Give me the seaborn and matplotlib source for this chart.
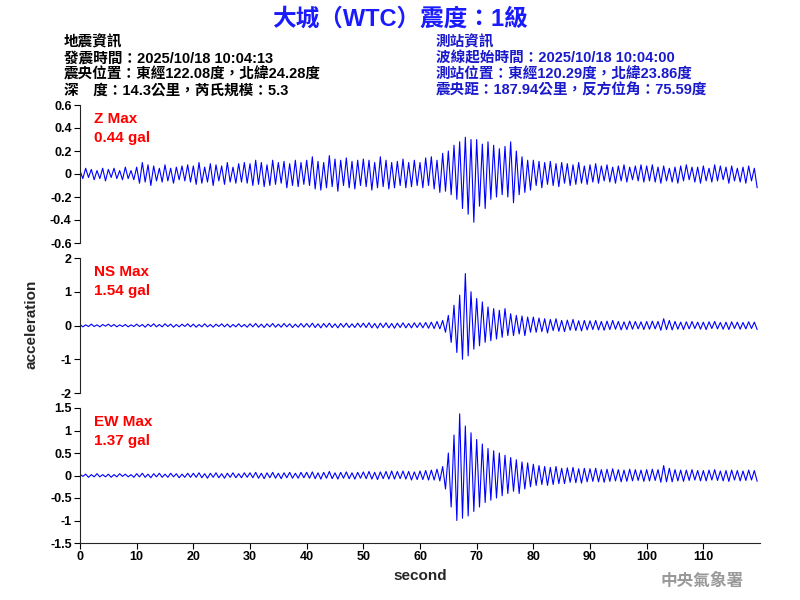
import numpy as np
import pandas as pd
import seaborn as sns
import matplotlib
matplotlib.use("Agg")
import matplotlib.pyplot as plt

# ── waveform samples, every 0.5 s from 0 s ──
STEP = 0.5
z_acc = [
    0.03,-0.04,0.05,-0.03,0.04,-0.05,0.03,-0.04,0.05,-0.06,0.04,-0.03,0.05,-0.04,0.03,-0.05,0.06,-0.04,0.03,-0.05,
    0.06,-0.08,0.1,-0.07,0.08,-0.1,0.07,-0.06,0.05,-0.07,0.08,-0.06,0.05,-0.08,0.06,-0.05,0.07,-0.06,0.08,-0.07,
    0.07,-0.09,0.1,-0.08,0.06,-0.07,0.09,-0.1,0.08,-0.06,0.07,-0.09,0.1,-0.07,0.06,-0.08,0.09,-0.07,0.1,-0.08,
    0.09,-0.1,0.12,-0.09,0.1,-0.11,0.08,-0.1,0.12,-0.09,0.1,-0.08,0.11,-0.12,0.09,-0.1,0.12,-0.11,0.1,-0.09,
    0.12,-0.1,0.15,-0.13,0.11,-0.14,0.1,-0.12,0.16,-0.11,0.13,-0.15,0.12,-0.1,0.14,-0.12,0.11,-0.13,0.12,-0.1,
    0.13,-0.11,0.12,-0.14,0.1,-0.12,0.15,-0.11,0.12,-0.13,0.1,-0.12,0.11,-0.1,0.13,-0.12,0.1,-0.11,0.12,-0.1,
    0.1,-0.12,0.14,-0.1,0.15,-0.13,0.12,-0.16,0.18,-0.15,0.2,-0.18,0.25,-0.22,0.28,-0.3,0.32,-0.35,0.3,-0.42,
    0.3,-0.28,0.26,-0.3,0.28,-0.22,0.25,-0.2,0.22,-0.18,0.24,-0.2,0.28,-0.25,0.2,-0.18,0.15,-0.16,0.12,-0.14,
    0.12,-0.1,0.11,-0.12,0.1,-0.09,0.11,-0.1,0.09,-0.11,0.1,-0.08,0.09,-0.1,0.08,-0.09,0.1,-0.08,0.07,-0.09,
    0.08,-0.07,0.09,-0.08,0.07,-0.06,0.08,-0.07,0.06,-0.08,0.07,-0.06,0.08,-0.07,0.06,-0.05,0.07,-0.06,0.08,-0.07,
    0.07,-0.06,0.08,-0.07,0.06,-0.08,0.07,-0.06,0.05,-0.07,0.06,-0.08,0.07,-0.06,0.08,-0.05,0.06,-0.07,0.06,-0.08,
    0.07,-0.06,0.05,-0.07,0.08,-0.06,0.07,-0.05,0.06,-0.08,0.07,-0.06,0.05,-0.07,0.06,-0.08,0.07,-0.06,0.05,-0.12,
]
ns_acc = [
    0.03,-0.04,0.02,-0.03,0.04,-0.03,0.02,-0.04,0.03,-0.02,0.04,-0.03,0.03,-0.04,0.02,-0.03,0.03,-0.04,0.02,-0.03,
    0.04,-0.03,0.03,-0.05,0.04,-0.03,0.05,-0.04,0.03,-0.04,0.05,-0.03,0.04,-0.05,0.03,-0.04,0.04,-0.03,0.05,-0.04,
    0.04,-0.05,0.03,-0.04,0.05,-0.04,0.03,-0.05,0.04,-0.03,0.05,-0.04,0.04,-0.05,0.03,-0.04,0.05,-0.04,0.03,-0.05,
    0.05,-0.04,0.06,-0.05,0.04,-0.06,0.05,-0.04,0.06,-0.05,0.04,-0.05,0.06,-0.04,0.05,-0.06,0.04,-0.05,0.06,-0.05,
    0.06,-0.05,0.07,-0.06,0.05,-0.07,0.06,-0.05,0.07,-0.06,0.05,-0.07,0.06,-0.05,0.07,-0.06,0.05,-0.06,0.07,-0.05,
    0.07,-0.06,0.08,-0.07,0.06,-0.08,0.07,-0.06,0.08,-0.07,0.06,-0.08,0.07,-0.06,0.08,-0.07,0.06,-0.07,0.08,-0.06,
    0.08,-0.07,0.09,-0.08,0.1,-0.09,0.12,-0.1,0.15,-0.2,0.3,-0.5,0.6,-0.8,0.9,-1.0,1.54,-0.9,1.0,-0.7,
    0.8,-0.6,0.7,-0.5,0.55,-0.45,0.5,-0.4,0.45,-0.35,0.5,-0.3,0.35,-0.3,0.3,-0.25,0.28,-0.3,0.25,-0.2,
    0.25,-0.2,0.22,-0.18,0.2,-0.22,0.18,-0.15,0.2,-0.17,0.15,-0.18,0.16,-0.14,0.18,-0.15,0.14,-0.16,0.15,-0.13,
    0.14,-0.12,0.15,-0.13,0.12,-0.14,0.13,-0.12,0.15,-0.11,0.12,-0.13,0.11,-0.12,0.13,-0.11,0.12,-0.1,0.11,-0.12,
    0.12,-0.11,0.13,-0.1,0.12,-0.14,0.2,-0.12,0.15,-0.13,0.12,-0.11,0.1,-0.12,0.11,-0.1,0.12,-0.09,0.1,-0.11,
    0.1,-0.12,0.11,-0.09,0.12,-0.1,0.09,-0.11,0.1,-0.12,0.11,-0.09,0.1,-0.11,0.09,-0.1,0.11,-0.09,0.1,-0.12,
]
ew_acc = [
    0.03,-0.02,0.03,-0.04,0.02,-0.03,0.04,-0.03,0.02,-0.03,0.03,-0.04,0.02,-0.03,0.04,-0.02,0.03,-0.03,0.02,-0.04,
    0.04,-0.03,0.05,-0.04,0.03,-0.05,0.04,-0.03,0.05,-0.04,0.03,-0.04,0.05,-0.03,0.04,-0.05,0.03,-0.04,0.05,-0.04,
    0.05,-0.04,0.06,-0.05,0.04,-0.06,0.05,-0.04,0.06,-0.05,0.04,-0.06,0.05,-0.04,0.06,-0.05,0.04,-0.05,0.06,-0.04,
    0.06,-0.05,0.07,-0.06,0.05,-0.07,0.06,-0.05,0.07,-0.06,0.05,-0.07,0.06,-0.05,0.07,-0.06,0.05,-0.06,0.07,-0.05,
    0.07,-0.06,0.08,-0.07,0.06,-0.08,0.07,-0.06,0.09,-0.07,0.06,-0.08,0.07,-0.06,0.08,-0.07,0.06,-0.08,0.07,-0.06,
    0.08,-0.07,0.09,-0.08,0.07,-0.09,0.08,-0.07,0.09,-0.08,0.1,-0.08,0.09,-0.07,0.1,-0.08,0.09,-0.1,0.08,-0.09,
    0.1,-0.09,0.11,-0.1,0.12,-0.1,0.14,-0.12,0.2,-0.3,0.5,-0.7,0.9,-1.0,1.37,-0.95,1.1,-0.9,0.95,-0.8,
    0.8,-0.7,0.7,-0.6,0.6,-0.55,0.55,-0.5,0.5,-0.45,0.45,-0.4,0.4,-0.35,0.35,-0.4,0.3,-0.3,0.28,-0.25,
    0.25,-0.22,0.22,-0.2,0.2,-0.22,0.18,-0.2,0.2,-0.18,0.16,-0.18,0.17,-0.15,0.18,-0.16,0.15,-0.17,0.16,-0.14,
    0.15,-0.13,0.16,-0.14,0.13,-0.15,0.14,-0.13,0.15,-0.12,0.13,-0.14,0.12,-0.13,0.14,-0.12,0.13,-0.11,0.12,-0.13,
    0.13,-0.12,0.14,-0.11,0.13,-0.15,0.22,-0.14,0.16,-0.14,0.13,-0.12,0.12,-0.13,0.12,-0.11,0.13,-0.1,0.11,-0.12,
    0.11,-0.12,0.12,-0.1,0.13,-0.11,0.1,-0.12,0.11,-0.13,0.12,-0.1,0.11,-0.12,0.1,-0.11,0.12,-0.1,0.11,-0.13,
]

channels = ["Z", "NS", "EW"]
peaks = ["0.44", "1.54", "1.37"]
ylims = [(-0.6, 0.6), (-2, 2), (-1.5, 1.5)]
yticks = [
    [-0.6, -0.4, -0.2, 0, 0.2, 0.4, 0.6],
    [-2, -1, 0, 1, 2],
    [-1.5, -1, -0.5, 0, 0.5, 1, 1.5],
]
xticks = list(range(0, 120, 10))

title = "大城（WTC）震度：1級"
left_info = ["地震資訊", "發震時間：2025/10/18 10:04:13",
             "震央位置：東經122.08度，北緯24.28度", "深　度：14.3公里，芮氏規模：5.3"]
right_info = ["測站資訊", "波線起始時間：2025/10/18 10:04:00",
              "測站位置：東經120.29度，北緯23.86度", "震央距：187.94公里，反方位角：75.59度"]

sns.set_style("ticks")
FONT = ["Liberation Sans", "Noto Sans CJK TC", "DejaVu Sans"]
plt.rcParams["font.family"] = FONT

fig = plt.figure(figsize=(8, 6), dpi=100)
boxes = [[0.1, 0.595, 0.85, 0.23], [0.1, 0.345, 0.85, 0.225], [0.1, 0.095, 0.85, 0.225]]

for i, (ch, data) in enumerate(zip(channels, [z_acc, ns_acc, ew_acc])):
    ax = fig.add_axes(boxes[i])
    df = pd.DataFrame({"t": np.arange(len(data)) * STEP, "a": data})
    sns.lineplot(data=df, x="t", y="a", ax=ax, color="blue", linewidth=0.8)
    ax.set_xlim(0, 120)
    ax.set_ylim(*ylims[i])
    ax.set_yticks(yticks[i])
    ax.set_yticklabels([f"{v:g}" for v in yticks[i]], fontsize=9, fontweight="bold")
    ax.tick_params(length=4, pad=2, colors="black")
    ax.set_ylabel("")
    ax.set_xlabel("")
    ax.text(0.02, 0.95, f"{ch} Max\n{peaks[i]} gal", transform=ax.transAxes,
            color="red", fontsize=11, fontweight="bold", va="top", linespacing=1.5)
    if i < 2:
        sns.despine(ax=ax, bottom=True)
        ax.set_xticks([])
    else:
        sns.despine(ax=ax)
        ax.set_xticks(xticks)
        ax.set_xticklabels([str(v) for v in xticks], fontsize=9, fontweight="bold")
        ax.set_xlabel("second", fontsize=11, fontweight="bold")

fig.text(0.04, 0.46, "acceleration", rotation=90, ha="center", va="center",
         fontsize=11, fontweight="bold")
fig.text(0.5, 0.968, title, ha="center", va="center", color="#1a1aff",
         fontsize=17, fontweight="bold")
for j, line in enumerate(left_info):
    fig.text(0.08, 0.93 - j * 0.027, line, fontsize=10.5, fontweight="bold",
             va="center", color="black")
for j, line in enumerate(right_info):
    fig.text(0.545, 0.93 - j * 0.027, line, fontsize=10.5, fontweight="bold",
             va="center", color="#1a1acc")
fig.text(0.93, 0.032, "中央氣象署", ha="right", va="center", color="#999999",
         fontsize=12, fontweight="bold")

fig.savefig("out.png", dpi=100)
